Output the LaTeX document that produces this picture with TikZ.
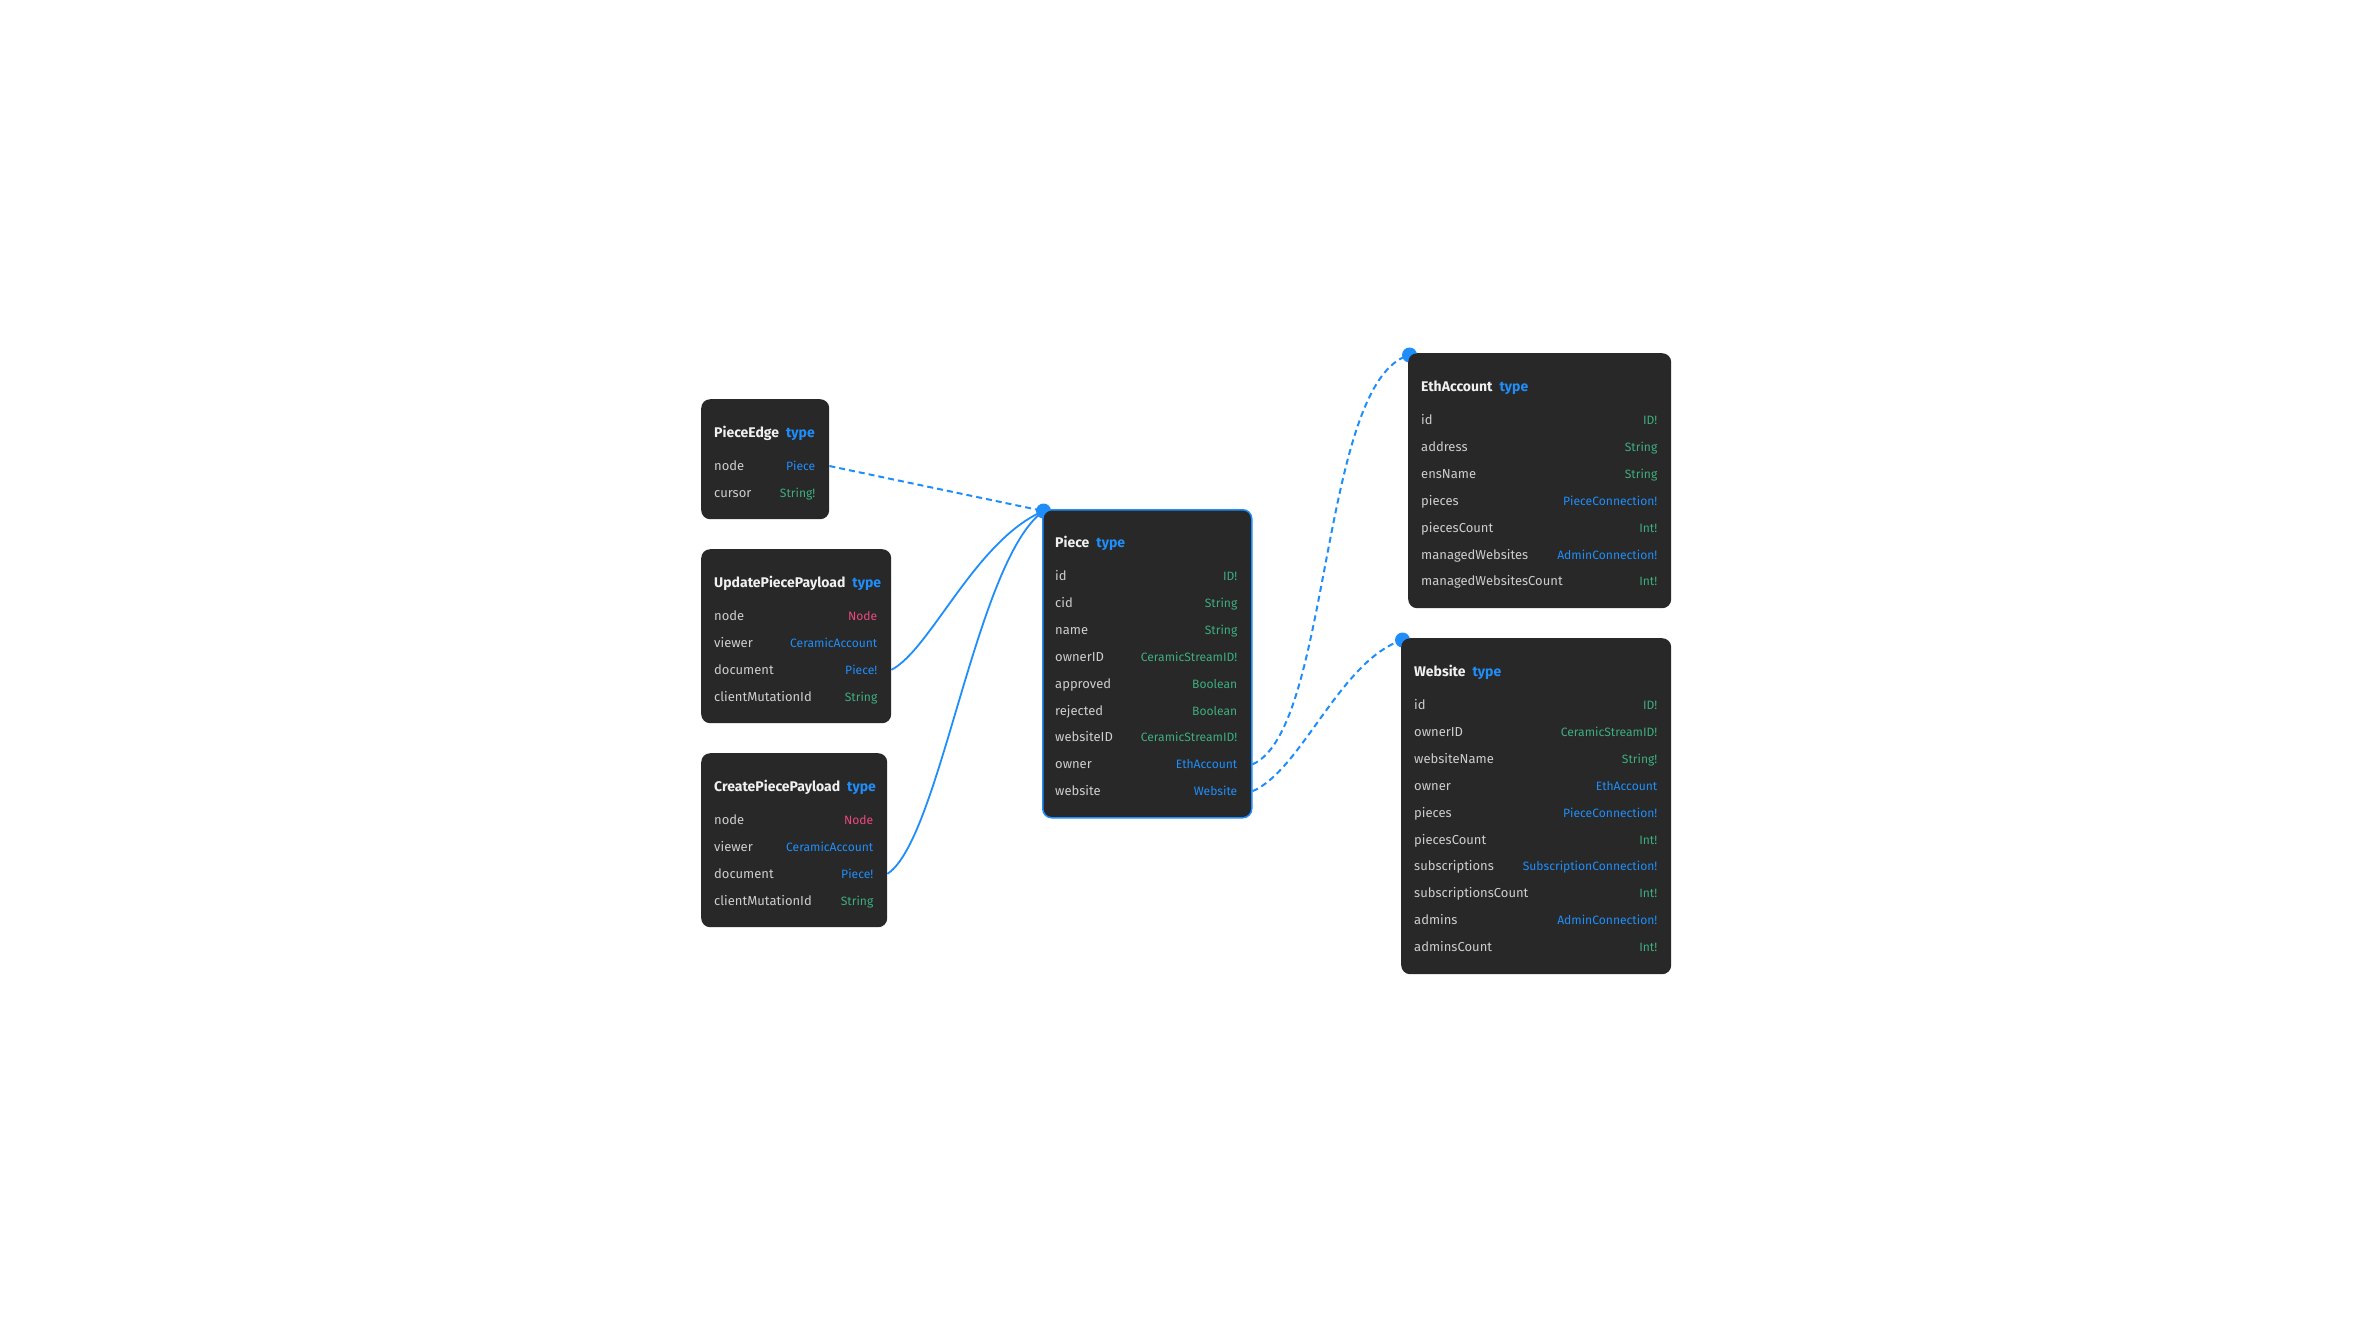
\documentclass[tikz,border=0pt]{standalone}
\usepackage{fontspec}
\setmainfont{Fira Sans}
\usetikzlibrary{calc,backgrounds}
\definecolor{boxbg}{HTML}{282828}
\definecolor{tblue}{HTML}{1F8EFA}
\definecolor{tgreen}{HTML}{3DAE7F}
\definecolor{tpink}{HTML}{EB4882}
\definecolor{fieldgray}{HTML}{CDCDCD}
\definecolor{titlewhite}{HTML}{F0F0F0}
\tikzset{
  gbox/.style={fill=boxbg, rounded corners=9pt, inner sep=0pt, anchor=north west},
  fieldtxt/.style={inner sep=0pt, font=\fontsize{13}{16}\selectfont, text=fieldgray},
  typetxt/.style={inner sep=0pt, font=\fontsize{12.1}{15}\selectfont},
  titletxt/.style={inner sep=0pt, font=\fontsize{14}{17}\selectfont\bfseries, text=titlewhite},
  link/.style={draw=tblue, line width=1.8pt},
  dlink/.style={link, line width=2pt, dash pattern=on 6pt off 4pt},
  portdot/.style={circle, fill=tblue, inner sep=0pt, minimum size=15pt},
}
\newcommand{\gqlbox}[8]{%
  \node[gbox, minimum width=#4pt, minimum height=#5pt, #8] (#1) at (#2,#3) {};
  \node[titletxt, anchor=base west] (#1-title) at ({#2+13},{#3+38}) {#6\hspace{7pt}\textcolor{tblue}{type}};
  \foreach \f/\t/\c [count=\i] in {#7} {
    \node[fieldtxt, anchor=base west] (#1-f\i) at ({#2+13},{#3+71.5+26.9*(\i-1)}) {\f};
    \node[typetxt, anchor=base east, text=\c] (#1-t\i) at ({#2+#4-13.5},{#3+71.5+26.9*(\i-1)}) {\t};
  }%
}
\begin{document}
\begin{tikzpicture}[x=1pt,y=-1pt]
\useasboundingbox (0,0) rectangle (2371,1326);

\gqlbox{pe}{701}{399}{128}{120}{PieceEdge}{node/Piece/tblue, cursor/String!/tgreen}{}
\gqlbox{up}{701}{549}{190}{174}{UpdatePiecePayload}{node/Node/tpink, viewer/CeramicAccount/tblue, document/Piece!/tblue, clientMutationId/String/tgreen}{}
\gqlbox{cp}{701}{753}{186}{174}{CreatePiecePayload}{node/Node/tpink, viewer/CeramicAccount/tblue, document/Piece!/tblue, clientMutationId/String/tgreen}{}
\gqlbox{piece}{1042}{509}{209}{308}{Piece}{id/ID!/tgreen, cid/String/tgreen, name/String/tgreen, ownerID/CeramicStreamID!/tgreen, approved/Boolean/tgreen, rejected/Boolean/tgreen, websiteID/CeramicStreamID!/tgreen, owner/EthAccount/tblue, website/Website/tblue}{draw=tblue, line width=1.5pt}
\gqlbox{eth}{1408}{353}{263}{255}{EthAccount}{id/ID!/tgreen, address/String/tgreen, ensName/String/tgreen, pieces/PieceConnection!/tblue, piecesCount/Int!/tgreen, managedWebsites/AdminConnection!/tblue, managedWebsitesCount/Int!/tgreen}{}
\gqlbox{web}{1401}{638}{270}{336}{Website}{id/ID!/tgreen, ownerID/CeramicStreamID!/tgreen, websiteName/String!/tgreen, owner/EthAccount/tblue, pieces/PieceConnection!/tblue, piecesCount/Int!/tgreen, subscriptions/SubscriptionConnection!/tblue, subscriptionsCount/Int!/tgreen, admins/AdminConnection!/tblue, adminsCount/Int!/tgreen}{}

\coordinate (pe-port) at ($(pe.north east)+(0,67)$);
\coordinate (up-port) at ($(up.north east)+(0,120.8)$);
\coordinate (cp-port) at ($(cp.north east)+(0,120.8)$);
\coordinate (piece-owner-port) at ($(piece.north east)+(0,255.3)$);
\coordinate (piece-web-port) at ($(piece.north east)+(0,282.2)$);

\begin{scope}[on background layer]
  \fill[white] (0,0) rectangle (2371,1326);
  \node[portdot] (piece-dot) at ($(piece.north west)+(1.5,2)$) {};
  \node[portdot] (eth-dot) at ($(eth.north west)+(1.5,2)$) {};
  \node[portdot] (web-dot) at ($(web.north west)+(1.5,2)$) {};
  \draw[dlink] (pe-port) -- (piece-dot.center);
  \draw[link] (up-port) .. controls +(39,-20) and +(-68,29) .. (piece-dot.center);
  \draw[link] (cp-port) .. controls +(53,-34) and +(-68,49) .. (piece-dot.center);
  \draw[dlink] (piece-owner-port) .. controls +(79,-34) and +(-90,25) .. (eth-dot.center);
  \draw[dlink] (piece-web-port) .. controls +(49,-21) and +(-62,20) .. (web-dot.center);
\end{scope}
\end{tikzpicture}
\end{document}
